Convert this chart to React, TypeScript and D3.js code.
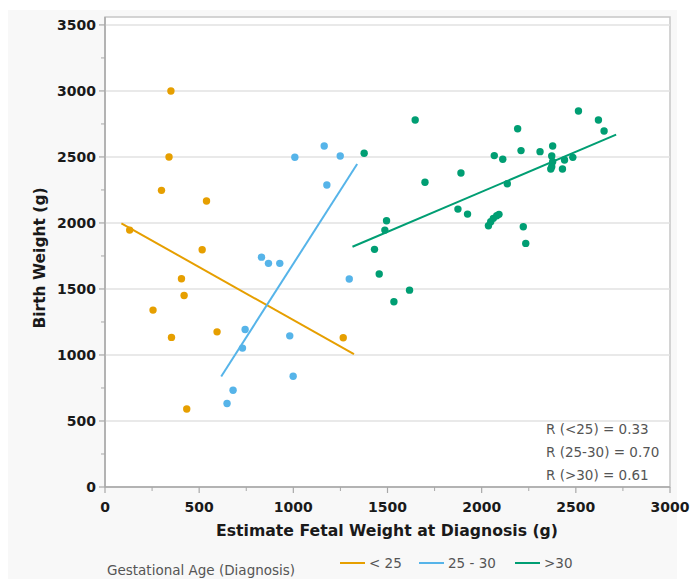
import React from "react";
import * as d3 from "d3";

const WIDTH = 692;
const HEIGHT = 579;
const MARGIN = { top: 17, right: 22, bottom: 92, left: 105 };

const FONT = "'DejaVu Sans', Verdana, sans-serif";

// Okabe-Ito style palette used by the original chart
const GROUPS = ["< 25", "25 - 30", ">30"];
const COLORS = ["#E69F00", "#56B4E9", "#009E73"];

const X_TICKS = [0, 500, 1000, 1500, 2000, 2500, 3000];
const Y_TICKS = [0, 500, 1000, 1500, 2000, 2500, 3000, 3500];

// [estimated fetal weight, birth weight]
const lt25Points = [
  [131, 1946], [350, 3000], [340, 2500], [300, 2247], [539, 2166],
  [516, 1797], [406, 1577], [420, 1451], [255, 1340], [353, 1133],
  [595, 1175], [434, 591], [1265, 1130],
];

const mid2530Points = [
  [1008, 2498], [1164, 2583], [1249, 2507], [1178, 2287], [831, 1741],
  [868, 1694], [928, 1694], [1297, 1575], [744, 1193], [730, 1052],
  [981, 1145], [999, 839], [680, 733], [648, 632],
];

const gt30Points = [
  [1647, 2780], [1376, 2528], [1699, 2308], [1890, 2378], [1495, 2017],
  [1486, 1946], [1431, 1800], [1456, 1613], [1617, 1491], [1534, 1403],
  [1874, 2105], [1925, 2067], [2036, 1979], [2048, 2009], [2062, 2035],
  [2080, 2055], [2092, 2065], [2067, 2510], [2112, 2482], [2136, 2297],
  [2191, 2714], [2209, 2548], [2221, 1971], [2234, 1845], [2310, 2540],
  [2377, 2583], [2372, 2507], [2377, 2464], [2372, 2426], [2367, 2409],
  [2429, 2409], [2440, 2477], [2484, 2497], [2514, 2848], [2620, 2780],
  [2650, 2697],
];

// fit line end points
const lt25Fit = [[87, 1997], [1322, 1006]];
const mid2530Fit = [[617, 837], [1339, 2447]];
const gt30Fit = [[1314, 1820], [2714, 2669]];

const R_LABELS = ["R (<25) = 0.33", "R (25-30) = 0.70", "R (>30) = 0.61"];

const SERIES = [
  { points: lt25Points, fit: lt25Fit },
  { points: mid2530Points, fit: mid2530Fit },
  { points: gt30Points, fit: gt30Fit },
];

const App = () => {
  const boundsWidth = WIDTH - MARGIN.left - MARGIN.right;
  const boundsHeight = HEIGHT - MARGIN.top - MARGIN.bottom;

  const xScale = d3.scaleLinear().domain([0, 3000]).range([0, boundsWidth]);
  const yScale = d3.scaleLinear().domain([0, 3560]).range([boundsHeight, 0]);

  const xMinor = d3.range(250, 3000, 500);
  const yMinor = d3.range(250, 3500, 500);

  const line = d3
    .line<number[]>()
    .x((d) => xScale(d[0]))
    .y((d) => yScale(d[1]));

  return (
    <div style={{ position: "absolute", left: 0, top: 0 }}>
      <svg width={WIDTH} height={HEIGHT} style={{ display: "block" }}>
        <rect x={0} y={0} width={WIDTH} height={HEIGHT} fill="#ffffff" />
        <rect x={8} y={10} width={669} height={HEIGHT - 10} fill="#f8f8f8" />
        <g transform={`translate(${MARGIN.left},${MARGIN.top})`}>
          <rect x={0} y={0} width={boundsWidth} height={boundsHeight} fill="#ffffff" stroke="#c6c6c6" strokeWidth={1.5} />
          {Y_TICKS.filter((t) => t > 0).map((t) => (
            <line key={t} x1={0} x2={boundsWidth} y1={yScale(t)} y2={yScale(t)} stroke="#e2e2e2" strokeWidth={1.5} />
          ))}

          {SERIES.map((s, i) => (
            <g key={i}>
              {s.points.map((d, j) => (
                <circle key={j} cx={xScale(d[0])} cy={yScale(d[1])} r={3.7} fill={COLORS[i]} />
              ))}
              <path d={line(s.fit) || ""} fill="none" stroke={COLORS[i]} strokeWidth={2} />
            </g>
          ))}

          {/* axes */}
          <line x1={0} x2={0} y1={0} y2={boundsHeight} stroke="#a8a8a8" strokeWidth={1.5} />
          <line x1={0} x2={boundsWidth} y1={boundsHeight} y2={boundsHeight} stroke="#a8a8a8" strokeWidth={1.5} />
          {Y_TICKS.map((t) => (
            <g key={t} transform={`translate(0,${yScale(t)})`}>
              <line x1={-6} x2={0} stroke="#a8a8a8" strokeWidth={1.2} />
              <text x={-9} dy="0.36em" textAnchor="end" fontFamily={FONT} fontWeight="bold" fontSize={14} fill="#1a1a1a">
                {t}
              </text>
            </g>
          ))}
          {yMinor.map((t) => (
            <line key={t} x1={-4} x2={0} y1={yScale(t)} y2={yScale(t)} stroke="#a8a8a8" strokeWidth={1} />
          ))}
          {X_TICKS.map((t) => (
            <g key={t} transform={`translate(${xScale(t)},${boundsHeight})`}>
              <line y1={0} y2={6} stroke="#a8a8a8" strokeWidth={1.2} />
              <text y={25} textAnchor="middle" fontFamily={FONT} fontWeight="bold" fontSize={14} fill="#1a1a1a">
                {t}
              </text>
            </g>
          ))}
          {xMinor.map((t) => (
            <line key={t} x1={xScale(t)} x2={xScale(t)} y1={boundsHeight} y2={boundsHeight + 4} stroke="#a8a8a8" strokeWidth={1} />
          ))}

          {R_LABELS.map((r, i) => (
            <text key={r} x={441} y={417 + i * 23} fontFamily={FONT} fontSize={13.5} fill="#555555">
              {r}
            </text>
          ))}
        </g>

        <text x={387} y={536} textAnchor="middle" fontFamily={FONT} fontWeight="bold" fontSize={15.7} fill="#1a1a1a">
          Estimate Fetal Weight at Diagnosis (g)
        </text>
        <text transform="translate(45,258) rotate(-90)" textAnchor="middle" fontFamily={FONT} fontWeight="bold" fontSize={15.5} fill="#1a1a1a">
          Birth Weight (g)
        </text>

        {/* legend */}
        <text x={107} y={575} fontFamily={FONT} fontSize={13.5} fill="#555555">
          Gestational Age (Diagnosis)
        </text>
        {GROUPS.map((g, i) => {
          const lx = [340, 419, 515][i];
          return (
            <g key={g}>
              <line x1={lx} x2={lx + 25} y1={563} y2={563} stroke={COLORS[i]} strokeWidth={2} />
              <text x={lx + 29} y={568} fontFamily={FONT} fontSize={13.5} fill="#555555">
                {g}
              </text>
            </g>
          );
        })}
      </svg>
    </div>
  );
};

export default App;
